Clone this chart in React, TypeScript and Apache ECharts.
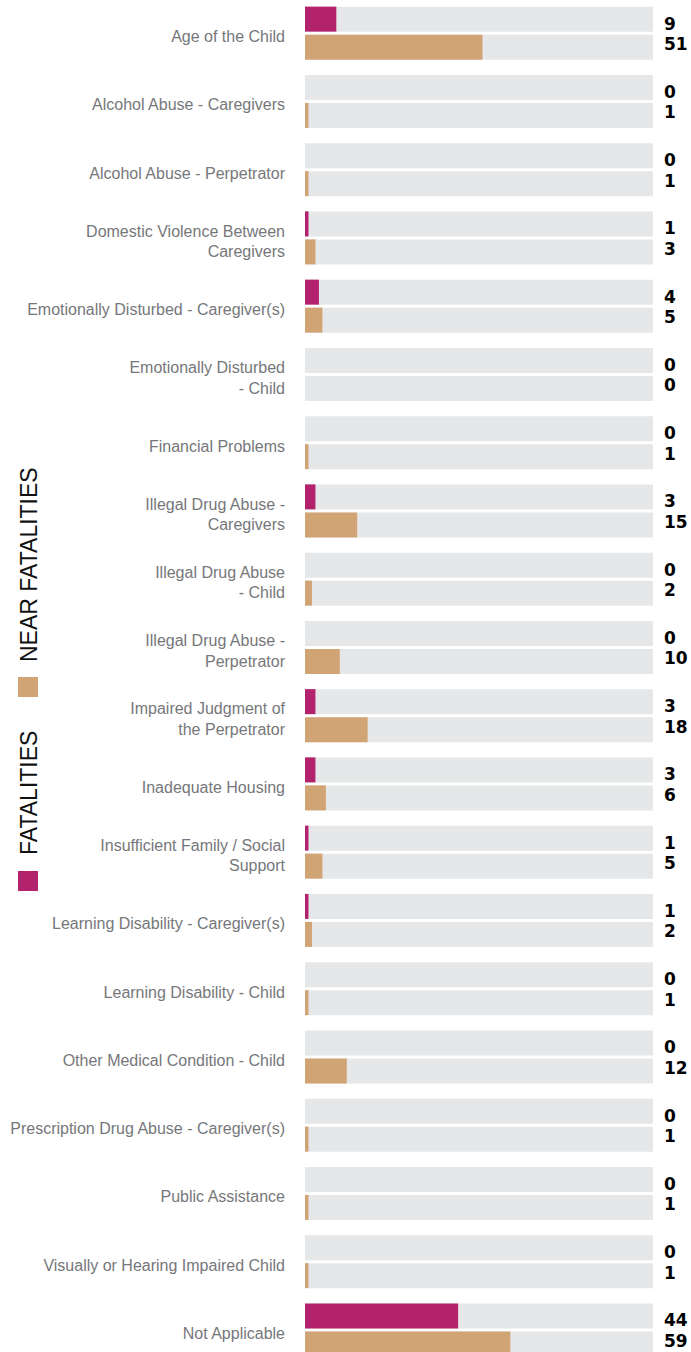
import React, { useEffect, useRef } from "react";
import * as echarts from "echarts";

const categories = [
  "Age of the Child",
  "Alcohol Abuse - Caregivers",
  "Alcohol Abuse - Perpetrator",
  "Domestic Violence Between\nCaregivers",
  "Emotionally Disturbed - Caregiver(s)",
  "Emotionally Disturbed\n- Child",
  "Financial Problems",
  "Illegal Drug Abuse -\nCaregivers",
  "Illegal Drug Abuse\n- Child",
  "Illegal Drug Abuse -\nPerpetrator",
  "Impaired Judgment of\nthe Perpetrator",
  "Inadequate Housing",
  "Insufficient Family / Social\nSupport",
  "Learning Disability - Caregiver(s)",
  "Learning Disability - Child",
  "Other Medical Condition - Child",
  "Prescription Drug Abuse - Caregiver(s)",
  "Public Assistance",
  "Visually or Hearing Impaired Child",
  "Not Applicable",
];

const fatalities = [9, 0, 0, 1, 4, 0, 0, 3, 0, 0, 3, 3, 1, 1, 0, 0, 0, 0, 0, 44];
const nearFatalities = [51, 1, 1, 3, 5, 0, 1, 15, 2, 10, 18, 6, 5, 2, 1, 12, 1, 1, 1, 59];

const seriesNames = ["FATALITIES", "NEAR FATALITIES"];

const MAGENTA = "#b2226d";
const TAN = "#d1a476";
const TRACK = "#e6e7e8";

export default function App() {
  const ref = useRef<HTMLDivElement>(null);

  useEffect(() => {
    if (!ref.current) return;
    const chart = echarts.init(ref.current, undefined, { renderer: "svg" });

    const valueLabel = (dy: number) => ({
      show: true,
      position: [359, "50%"],
      verticalAlign: "middle",
      align: "left",
      offset: [0, dy],
      color: "#000",
      fontFamily: "DejaVu Sans",
      fontWeight: "bold",
      fontSize: 17,
      formatter: (p: any) => String(p.value),
    });

    chart.setOption({
      animation: false,
      grid: { left: 305, right: 38, top: 0, bottom: 0 },
      xAxis: {
        type: "value",
        min: 0,
        max: 100,
        show: false,
      },
      yAxis: {
        type: "category",
        inverse: true,
        data: categories,
        axisLine: { show: false },
        axisTick: { show: false },
        splitLine: { show: false },
        axisLabel: {
          margin: 20,
          align: "right",
          formatter: (v: string) =>
            "{s| }\n" + v.split("\n").map((l) => `{a|${l}}`).join("\n"),
          rich: {
            s: { fontSize: 1, lineHeight: 7 },
            a: {
              color: "#76777a",
              fontFamily: "Liberation Sans",
              fontSize: 16,
              lineHeight: 20.5,
              align: "right",
            },
          },
        },
      },
      series: [
        {
          name: seriesNames[0],
          type: "bar",
          data: fatalities,
          barWidth: 25,
          barGap: "12%",
          itemStyle: { color: MAGENTA },
          showBackground: true,
          backgroundStyle: { color: TRACK },
          label: valueLabel(4.5),
        },
        {
          name: seriesNames[1],
          type: "bar",
          data: nearFatalities,
          barWidth: 25,
          barGap: "12%",
          itemStyle: { color: TAN },
          showBackground: true,
          backgroundStyle: { color: TRACK },
          label: valueLabel(-3),
        },
      ],
      graphic: [
        { type: "rect", shape: { x: 18, y: 872, width: 20, height: 20 }, style: { fill: MAGENTA } },
        {
          type: "text",
          x: 29,
          y: 856,
          rotation: Math.PI / 2,
          style: {
            text: seriesNames[0],
            fontFamily: "Liberation Sans",
            fontSize: 23,
            fill: "#111",
            align: "left",
            verticalAlign: "middle",
          },
        },
        { type: "rect", shape: { x: 18, y: 678, width: 20, height: 20 }, style: { fill: TAN } },
        {
          type: "text",
          x: 29,
          y: 663,
          rotation: Math.PI / 2,
          style: {
            text: seriesNames[1],
            fontFamily: "Liberation Sans",
            fontSize: 23,
            fill: "#111",
            align: "left",
            verticalAlign: "middle",
          },
        },
      ],
    });

    return () => chart.dispose();
  }, []);

  return (
    <div
      style={{
        position: "absolute",
        left: 0,
        top: 0,
        width: 691,
        height: 1352,
        overflow: "hidden",
      }}
    >
      <div
        ref={ref}
        style={{ position: "absolute", left: 0, top: -1, width: 691, height: 1365 }}
      />
    </div>
  );
}
